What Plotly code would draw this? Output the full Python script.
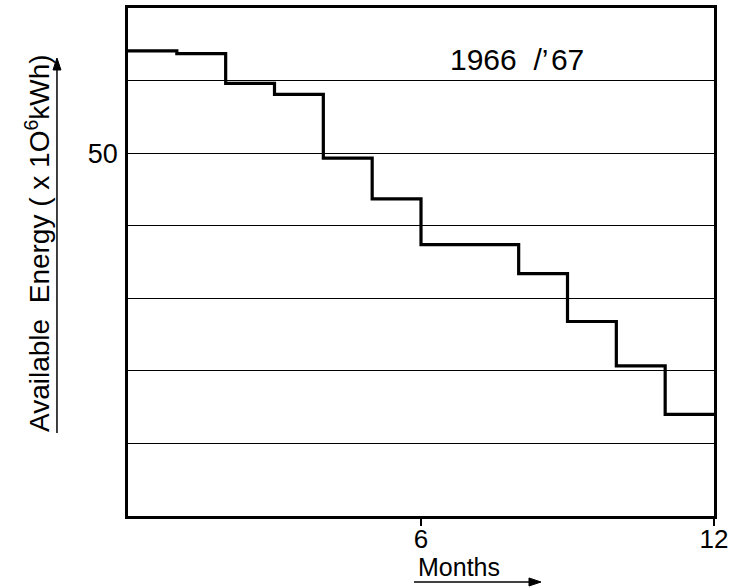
import plotly.graph_objects as go

# Step boundaries (months) and available energy in each interval (x 10^6 kWh)
month_edges = [0, 1, 2, 3, 4, 5, 6, 8, 9, 10, 11, 12]
energy = [64.1, 63.7, 59.6, 58.1, 49.3, 43.7, 37.4, 33.4, 26.8, 20.7, 14.0]
x_tick_vals = [6, 12]
x_tick_text = ["6", "12"]
y_tick_vals = [50]
y_tick_text = ["50"]
series_label = "1966\u00a0\u00a0/\u2019\u200a67"

FONT = "Liberation Sans, Arial, sans-serif"

fig = go.Figure()
fig.add_trace(go.Scatter(
    x=month_edges,
    y=energy + [energy[-1]],
    mode="lines",
    line=dict(shape="hv", color="black", width=3.2),
    showlegend=False,
    hoverinfo="skip",
))

fig.update_layout(
    width=729, height=588,
    margin=dict(l=128, r=15, t=8, b=72),
    paper_bgcolor="white", plot_bgcolor="white",
    font=dict(family=FONT, color="black", size=26),
    xaxis=dict(
        range=[0, 12], tickvals=x_tick_vals, ticktext=x_tick_text,
        ticks="outside", ticklen=7, tickwidth=1.5, tickcolor="black",
        showgrid=False, zeroline=False, automargin=False,
        showline=True, linecolor="black", linewidth=2.5, mirror=True,
        tickfont=dict(size=26), ticklabelstandoff=-9,
    ),
    yaxis=dict(
        range=[0, 70], tickvals=y_tick_vals, ticktext=y_tick_text,
        ticks="", showgrid=True, gridcolor="black", gridwidth=1.3,
        zeroline=False, automargin=False,
        showline=True, linecolor="black", linewidth=2.5, mirror=True,
        tickfont=dict(size=27), ticklabelstandoff=2,
        minor=dict(tick0=0, dtick=10, showgrid=True, gridcolor="black", gridwidth=1.3, ticks=""),
    ),
)

# series label
fig.add_annotation(x=0.664, y=0.898, xref="paper", yref="paper", text=series_label,
                   showarrow=False, font=dict(size=30), xanchor="center", yanchor="middle")

# y-axis title (rotated)
fig.add_annotation(x=-0.154, y=0.537, xref="paper", yref="paper",
                   text="Available\u00a0\u00a0Energy\u00a0(\u00a0x\u00a01O<sup>6</sup>kWh)",
                   textangle=-90, showarrow=False, font=dict(size=28),
                   xanchor="center", yanchor="middle")

# x-axis title
fig.add_annotation(x=0.565, y=-0.1, xref="paper", yref="paper", text="Months",
                   showarrow=False, font=dict(size=25), xanchor="center", yanchor="middle")

# underline arrows (paper coordinates)
ARROW = dict(color="black", width=1.5)
fig.add_shape(type="line", xref="paper", yref="paper",
              x0=-0.1212, y0=0.1634, x1=-0.1212, y1=0.885, line=ARROW)
fig.add_shape(type="path", xref="paper", yref="paper",
              path="M -0.1212,0.9016 L -0.1280,0.878 L -0.1144,0.878 Z",
              fillcolor="black", line=dict(color="black", width=1))
fig.add_shape(type="line", xref="paper", yref="paper",
              x0=0.488, y0=-0.1299, x1=0.692, y1=-0.1299, line=ARROW)
fig.add_shape(type="path", xref="paper", yref="paper",
              path="M 0.7048,-0.1299 L 0.6843,-0.1220 L 0.6843,-0.1378 Z",
              fillcolor="black", line=dict(color="black", width=1))

fig.write_html("out.html")
